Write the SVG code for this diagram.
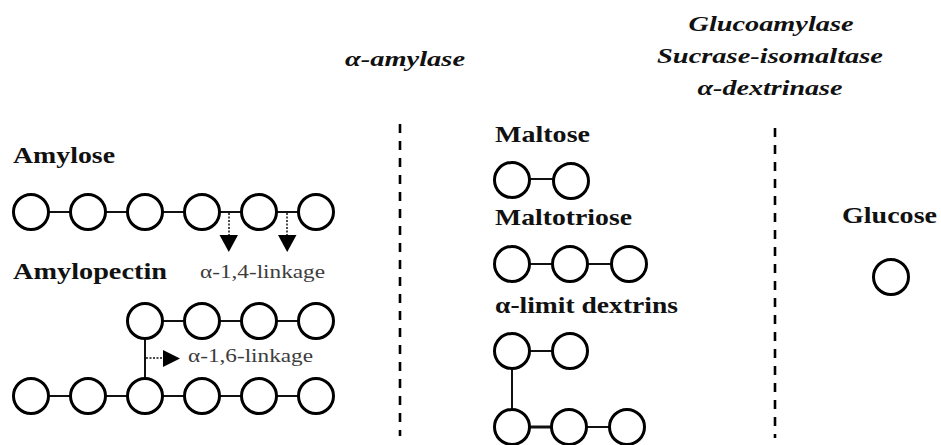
<svg xmlns="http://www.w3.org/2000/svg" width="941" height="445" viewBox="0 0 941 445">
<style>
.c{fill:#fff;stroke:#000;stroke-width:3}
.l{stroke:#111;stroke-width:2;fill:none}
.d{stroke:#111;stroke-width:1.5;stroke-dasharray:2 1.5;fill:none}
.sep{stroke:#000;stroke-width:2.6;stroke-dasharray:9 8;fill:none}
.lab{font-weight:bold;font-size:23px;fill:#111}
.enz{font-weight:bold;font-style:italic;font-size:22px;fill:#111;text-anchor:middle}
.lk{font-size:19px;fill:#3c3c3c}
.tri{fill:#000}
</style>
<rect width="941" height="445" fill="#fff"/>
<g font-family="Liberation Serif, Tinos, Times New Roman, Noto Serif, DejaVu Serif, FreeSerif, Nimbus Roman, serif">

<g id="enzymes">
<text class="enz" x="405" y="66" textLength="120" lengthAdjust="spacingAndGlyphs">α-amylase</text>
<text class="enz" x="771" y="31" textLength="165" lengthAdjust="spacingAndGlyphs">Glucoamylase</text>
<text class="enz" x="770" y="63" textLength="226" lengthAdjust="spacingAndGlyphs">Sucrase-isomaltase</text>
<text class="enz" x="770" y="95" textLength="145" lengthAdjust="spacingAndGlyphs">α-dextrinase</text>
</g>

<g id="separators">
<line class="sep" x1="400" y1="124" x2="400" y2="436"/>
<line class="sep" x1="775" y1="128" x2="775" y2="438"/>
</g>

<g id="connectors">
<line class="l" x1="48" y1="212" x2="71" y2="212"/>
<line class="l" x1="105" y1="212" x2="128" y2="212"/>
<line class="l" x1="162" y1="212" x2="185" y2="212"/>
<line class="l" x1="219" y1="212" x2="242" y2="212"/>
<line class="l" x1="276" y1="212" x2="299" y2="212"/>
<line class="l" x1="162" y1="321" x2="185" y2="321"/>
<line class="l" x1="219" y1="321" x2="242" y2="321"/>
<line class="l" x1="276" y1="321" x2="299" y2="321"/>
<line class="l" x1="48" y1="396" x2="71" y2="396"/>
<line class="l" x1="105" y1="396" x2="128" y2="396"/>
<line class="l" x1="162" y1="396" x2="185" y2="396"/>
<line class="l" x1="219" y1="396" x2="242" y2="396"/>
<line class="l" x1="276" y1="396" x2="299" y2="396"/>
<line class="l" x1="145" y1="339" x2="145" y2="378"/>
<line class="l" x1="529" y1="179" x2="554" y2="179"/>
<line class="l" x1="529" y1="264" x2="553" y2="264"/>
<line class="l" x1="587" y1="264" x2="612" y2="264"/>
<line class="l" x1="529" y1="351" x2="553" y2="351"/>
<line class="l" x1="512" y1="369" x2="512" y2="409"/>
<line class="l" x1="529" y1="427" x2="552" y2="427" style="stroke-width:3"/>
<line class="l" x1="586" y1="427" x2="610" y2="427"/>
<line class="d" x1="229" y1="213" x2="229" y2="236"/>
<polygon class="tri" points="219.5,235 238,235 228.8,252"/>
<line class="d" x1="287" y1="213" x2="287" y2="236"/>
<polygon class="tri" points="278,235 296.5,235 287.2,252"/>
<line class="d" x1="146" y1="358" x2="164" y2="358"/>
<polygon class="tri" points="163,350 163,367 180,358.5"/>
</g>

<g id="amylose">
<text class="lab" x="13" y="163" textLength="102" lengthAdjust="spacingAndGlyphs">Amylose</text>
<circle class="c" cx="31" cy="212" r="17.5"/>
<circle class="c" cx="88" cy="212" r="17.5"/>
<circle class="c" cx="145" cy="212" r="17.5"/>
<circle class="c" cx="202" cy="212" r="17.5"/>
<circle class="c" cx="259" cy="212" r="17.5"/>
<circle class="c" cx="316" cy="212" r="17.5"/>
<text class="lk" x="200" y="278" textLength="125" lengthAdjust="spacingAndGlyphs">α-1,4-linkage</text>
</g>

<g id="amylopectin">
<text class="lab" x="13" y="279" textLength="154" lengthAdjust="spacingAndGlyphs">Amylopectin</text>
<circle class="c" cx="145" cy="321" r="17.5"/>
<circle class="c" cx="202" cy="321" r="17.5"/>
<circle class="c" cx="259" cy="321" r="17.5"/>
<circle class="c" cx="316" cy="321" r="17.5"/>
<circle class="c" cx="31" cy="396" r="17.5"/>
<circle class="c" cx="88" cy="396" r="17.5"/>
<circle class="c" cx="145" cy="396" r="17.5"/>
<circle class="c" cx="202" cy="396" r="17.5"/>
<circle class="c" cx="259" cy="396" r="17.5"/>
<circle class="c" cx="316" cy="396" r="17.5"/>
<text class="lk" x="188" y="362" textLength="125" lengthAdjust="spacingAndGlyphs">α-1,6-linkage</text>
</g>

<g id="maltose">
<text class="lab" x="495" y="142" textLength="95" lengthAdjust="spacingAndGlyphs">Maltose</text>
<circle class="c" cx="512" cy="180" r="17.5"/>
<circle class="c" cx="571" cy="181" r="17.5"/>
</g>

<g id="maltotriose">
<text class="lab" x="495" y="225" textLength="137" lengthAdjust="spacingAndGlyphs">Maltotriose</text>
<circle class="c" cx="512" cy="264" r="17.5"/>
<circle class="c" cx="570" cy="264" r="17.5"/>
<circle class="c" cx="629" cy="264" r="17.5"/>
</g>

<g id="dextrins">
<text class="lab" x="495" y="313" textLength="183" lengthAdjust="spacingAndGlyphs">α-limit dextrins</text>
<circle class="c" cx="512" cy="351" r="17.5"/>
<circle class="c" cx="570" cy="351" r="17.5"/>
<circle class="c" cx="512" cy="427" r="17.5"/>
<circle class="c" cx="569" cy="427" r="17.5"/>
<circle class="c" cx="627" cy="427" r="17.5"/>
</g>

<g id="glucose">
<text class="lab" x="842" y="223" textLength="95" lengthAdjust="spacingAndGlyphs">Glucose</text>
<circle class="c" cx="891" cy="277" r="17.5"/>
</g>
</g>
</svg>
